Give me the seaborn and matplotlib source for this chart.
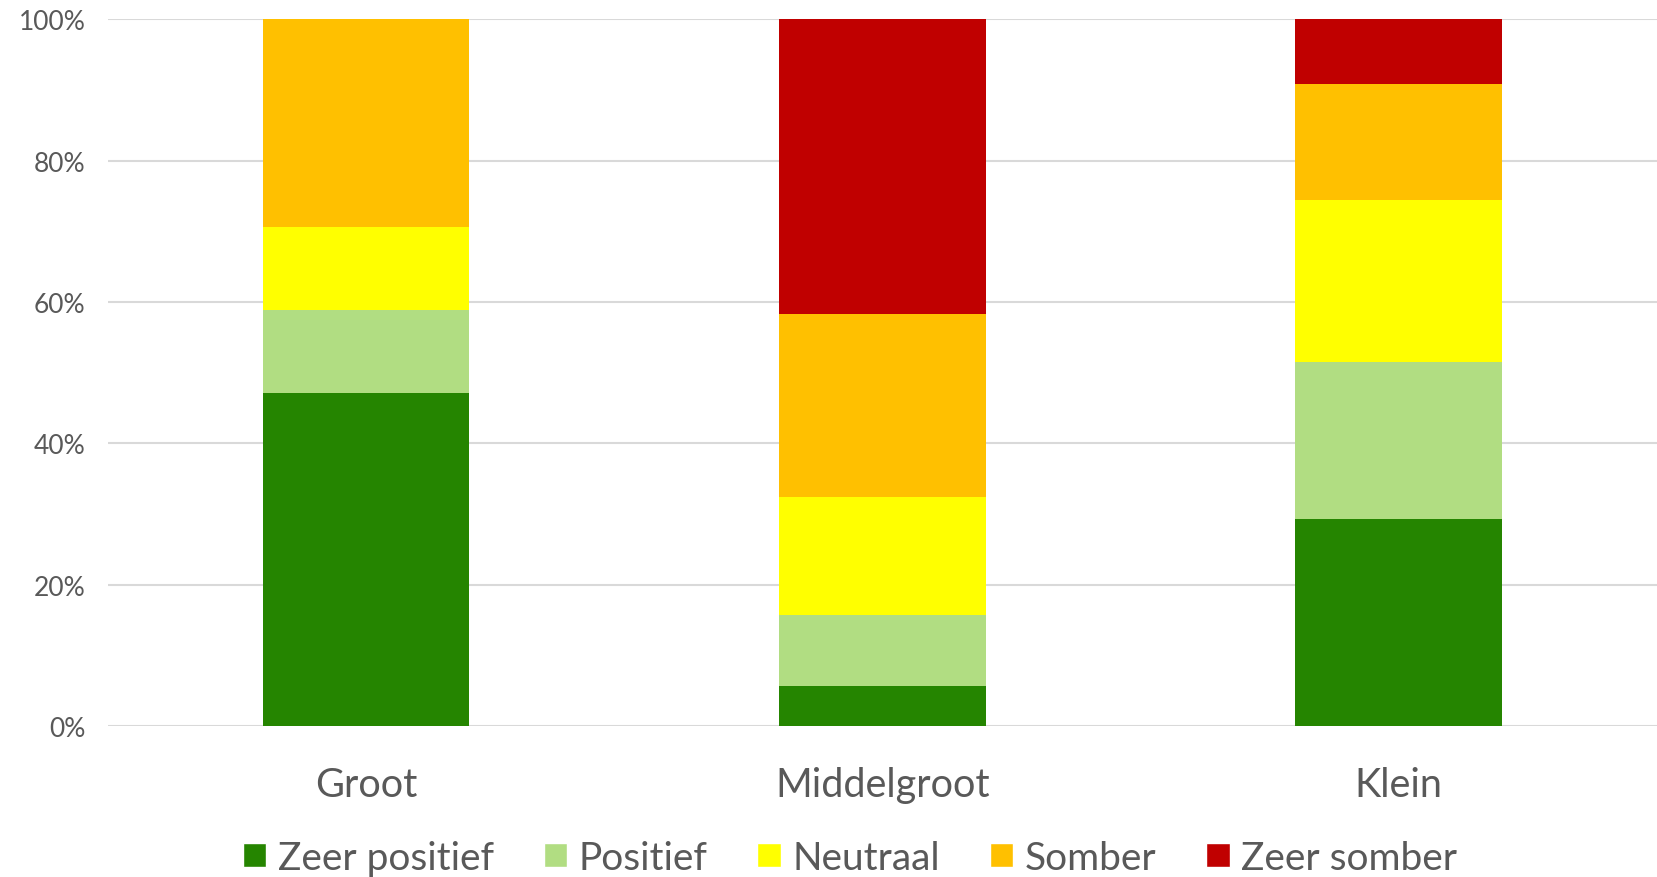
import pandas as pd
import numpy as np
import seaborn as sns
import matplotlib.pyplot as plt
from matplotlib.patches import Patch
from matplotlib.ticker import PercentFormatter

groepen = ['Groot', 'Middelgroot', 'Klein']
zeer_positief = [47.1, 5.6, 29.3]
positief = [11.7, 10.1, 22.2]
neutraal = [11.8, 16.7, 22.9]
somber = [29.4, 25.9, 16.5]
zeer_somber = [0.0, 41.7, 9.1]

reeksen = ['Zeer positief', 'Positief', 'Neutraal', 'Somber', 'Zeer somber']
kleuren = ['#258500', '#b1dd82', '#ffff00', '#ffc000', '#c00000']

df = pd.DataFrame({'groep': groepen, 'Zeer positief': zeer_positief,
                   'Positief': positief, 'Neutraal': neutraal,
                   'Somber': somber, 'Zeer somber': zeer_somber})
cum = df[reeksen].cumsum(axis=1)
cum['groep'] = df['groep']

sns.set_style('white')
plt.rcParams['font.family'] = ['Lato', 'DejaVu Sans']

fig = plt.figure(figsize=(16.57, 8.78), dpi=100)
ax = fig.add_axes([0.065, 0.172, 0.935, 0.805])

# stacked bars: draw cumulative totals from top to bottom
for naam, kleur in reversed(list(zip(reeksen, kleuren))):
    sns.barplot(data=cum, x='groep', y=naam, color=kleur, width=0.4,
                saturation=1, linewidth=0, ax=ax, order=groepen)

ax.set_ylim(0, 100)
ax.set_xlim(-0.5, 2.5)
ax.set_yticks(np.arange(0, 101, 20))
ax.yaxis.set_major_formatter(PercentFormatter(decimals=0))
ax.yaxis.grid(True, color='#d9d9d9', linewidth=1.5)
ax.set_axisbelow(True)
sns.despine(ax=ax, left=True, bottom=True)
ax.set_xlabel('')
ax.set_ylabel('')
ax.tick_params(axis='y', labelsize=19, colors='#595959', length=0, pad=16)
ax.tick_params(axis='x', labelsize=28.5, colors='#595959', length=0, pad=29)

handles = [Patch(facecolor=k, label=n) for n, k in zip(reeksen, kleuren)]
leg = fig.legend(handles=handles, loc='center', bbox_to_anchor=(0.513, 0.022),
                 ncol=5, frameon=False, fontsize=28, handlelength=0.6,
                 handleheight=0.6, handletextpad=0.3, columnspacing=1.28)
for t in leg.get_texts():
    t.set_color('#595959')

fig.savefig('out.png', dpi=100)
